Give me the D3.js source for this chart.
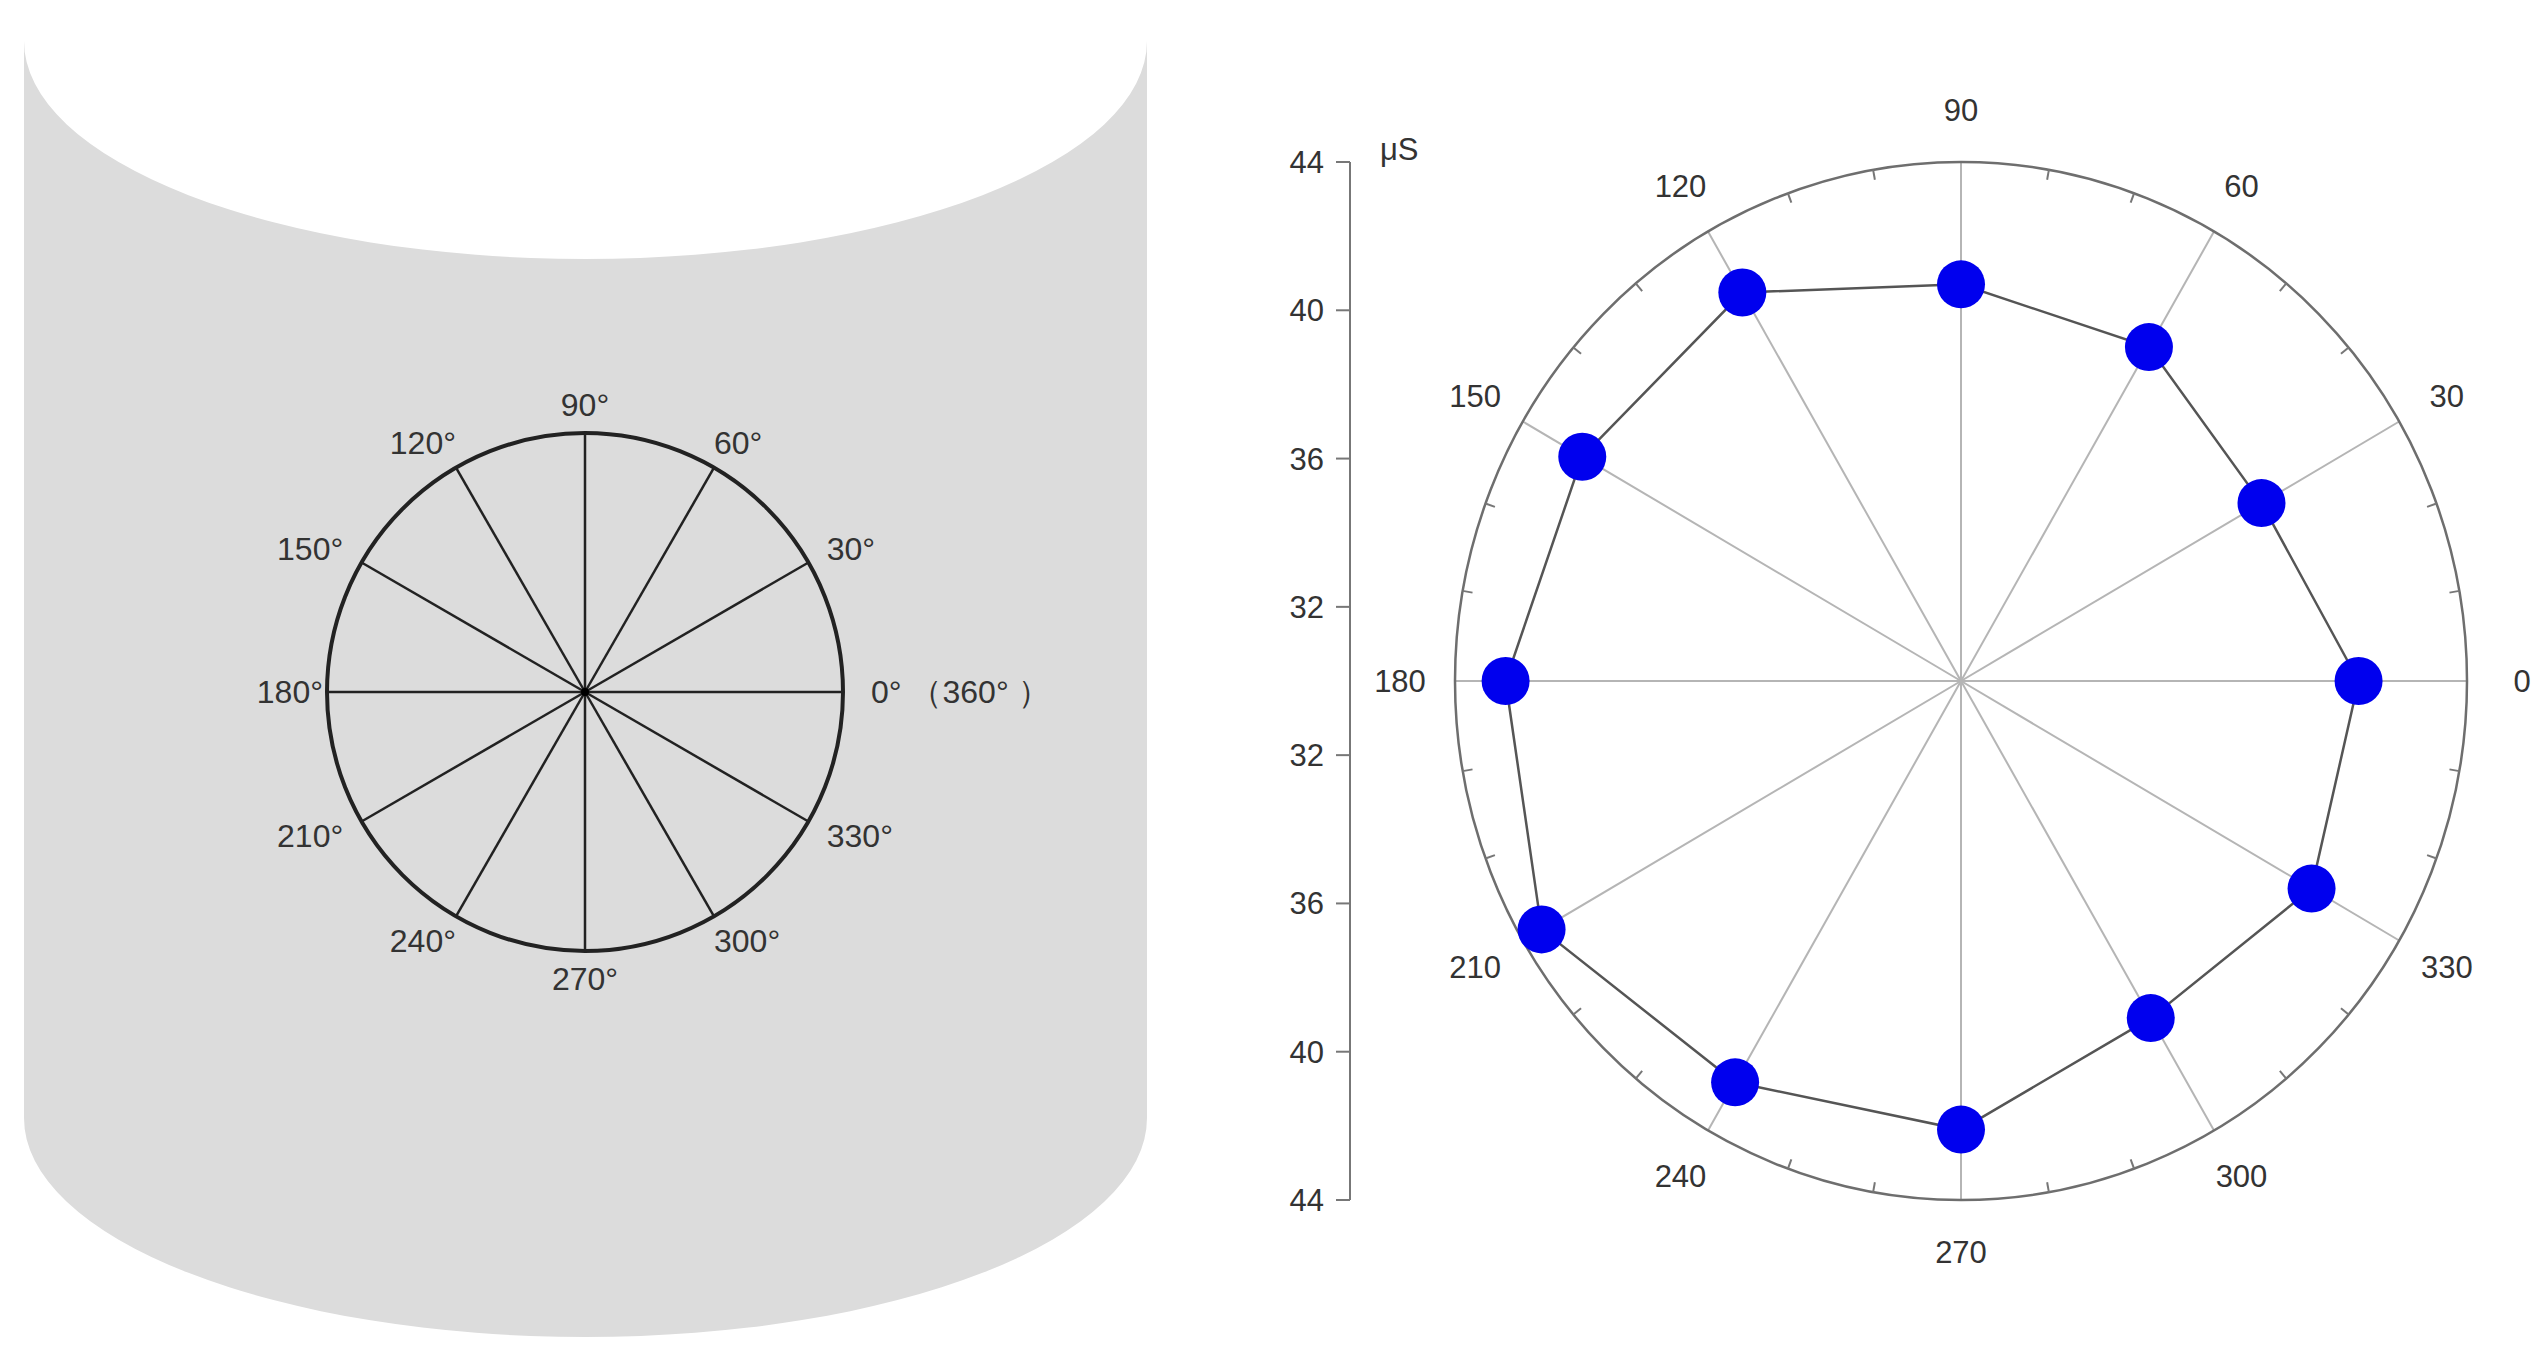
<!DOCTYPE html>
<html><head><meta charset="utf-8">
<script src="https://cdn.jsdelivr.net/npm/d3@7"></script>
<style>body{margin:0;background:#fff}svg{display:block}text{font-family:Arial,"Liberation Sans",sans-serif}</style>
</head><body><svg id="c" width="2541" height="1367"></svg>
<script>
const angles = [0,30,60,90,120,150,180,210,240,270,300,330];
const values = [41.0,39.6,40.4,40.7,42.1,42.1,42.6,43.4,42.5,42.1,40.5,41.2];
const axisTicksTop = [44,40,36,32];
const axisTicksBottom = [32,36,40,44];
const leftLabels = ["0°","30°","60°","90°","120°","150°","180°","210°","240°","270°","300°","330°"];
const rightLabels = ["0","30","60","90","120","150","180","210","240","270","300","330"];

const svg = d3.select("#c");
// ---- left: cylinder ----
const L = {x0:24,x1:1147,top:41,topR:218,bot:1118,botR:219,cx:585,cy:692,rx:258,ry:259};
const hw=(L.x1-L.x0)/2;
svg.append("path").attr("fill","#dcdcdc")
  .attr("d",`M${L.x0},${L.top} A${hw},${L.topR} 0 0 0 ${L.x1},${L.top} L${L.x1},${L.bot} A${hw},${L.botR} 0 0 1 ${L.x0},${L.bot} Z`);
const gl = svg.append("g");
angles.forEach(a=>{
  const t=a*Math.PI/180;
  gl.append("line").attr("x1",L.cx).attr("y1",L.cy)
    .attr("x2",L.cx+L.rx*Math.cos(t)).attr("y2",L.cy-L.ry*Math.sin(t))
    .attr("stroke","#222").attr("stroke-width",2.5);
});
gl.append("ellipse").attr("cx",L.cx).attr("cy",L.cy).attr("rx",L.rx).attr("ry",L.ry)
  .attr("fill","none").attr("stroke","#222").attr("stroke-width",4);
gl.append("circle").attr("cx",L.cx).attr("cy",L.cy).attr("r",4).attr("fill","#000");
angles.forEach((a,i)=>{
  const t=a*Math.PI/180, c=Math.cos(t), s=Math.sin(t);
  let x=L.cx+(L.rx+50)*c, y=L.cy-(L.ry+28)*s+11;
  let anchor = c>0.3?"start":(c<-0.3?"end":"middle");
  if(anchor==="start") x-=25; if(anchor==="end") x+=25;
  if(a===0){x=L.cx+L.rx+28;}
  if(a===180){x=L.cx-L.rx-4;}
  const txt = a===0 ? "0°  （360° ）" : leftLabels[i];
  gl.append("text").attr("x",x).attr("y",y).attr("text-anchor",a===180?"end":anchor)
    .attr("font-size",32).attr("fill","#333").attr("font-family","'DejaVu Serif',serif").text(txt);
});

// ---- right: polar ----
const P = {cx:1961,cy:681,rx:506,ry:519,ax:1350};
const rX = d3.scaleLinear().domain([30,44]).range([0,P.rx]);
const rY = d3.scaleLinear().domain([30,44]).range([0,P.ry]);
const g = svg.append("g");
angles.forEach(a=>{
  const t=a*Math.PI/180;
  g.append("line").attr("x1",P.cx).attr("y1",P.cy)
    .attr("x2",P.cx+P.rx*Math.cos(t)).attr("y2",P.cy-P.ry*Math.sin(t))
    .attr("stroke","#b5b5b5").attr("stroke-width",2);
});
g.append("ellipse").attr("cx",P.cx).attr("cy",P.cy).attr("rx",P.rx).attr("ry",P.ry)
  .attr("fill","none").attr("stroke","#6e6e6e").attr("stroke-width",2.5);
d3.range(0,360,10).forEach(a=>{
  if(a%30===0) return;
  const t=a*Math.PI/180;
  g.append("line").attr("x1",P.cx+P.rx*Math.cos(t)).attr("y1",P.cy-P.ry*Math.sin(t))
    .attr("x2",P.cx+(P.rx-10)*Math.cos(t)).attr("y2",P.cy-(P.ry-10)*Math.sin(t))
    .attr("stroke","#777").attr("stroke-width",2);
});
angles.forEach((a,i)=>{
  const t=a*Math.PI/180, c=Math.cos(t), s=Math.sin(t);
  const x=P.cx+(P.rx+55)*c, y=P.cy-(P.ry+52)*s+11;
  g.append("text").attr("x",x).attr("y",y).attr("text-anchor","middle")
    .attr("font-size",31).attr("fill","#333").text(rightLabels[i]);
});
const pts = angles.map((a,i)=>{const t=a*Math.PI/180;return [P.cx+rX(values[i])*Math.cos(t),P.cy-rY(values[i])*Math.sin(t)];});
g.append("path").attr("d",d3.line().curve(d3.curveLinearClosed)(pts))
  .attr("fill","none").attr("stroke","#555").attr("stroke-width",2.5);
g.selectAll(".pt").data(pts).join("circle").attr("cx",d=>d[0]).attr("cy",d=>d[1]).attr("r",24).attr("fill","#0000ee");
const ga = svg.append("g");
ga.append("line").attr("x1",P.ax).attr("x2",P.ax).attr("y1",P.cy-P.ry).attr("y2",P.cy+P.ry).attr("stroke","#777").attr("stroke-width",2);
const tick=(v,y)=>{
  ga.append("line").attr("x1",P.ax-14).attr("x2",P.ax).attr("y1",y).attr("y2",y).attr("stroke","#777").attr("stroke-width",2);
  ga.append("text").attr("x",P.ax-26).attr("y",y+11).attr("text-anchor","end").attr("font-size",31).attr("fill","#333").text(v);
};
axisTicksTop.forEach(v=>tick(v,P.cy-rY(v)));
axisTicksBottom.forEach(v=>tick(v,P.cy+rY(v)));
ga.append("text").attr("x",P.ax+30).attr("y",P.cy-P.ry-2).attr("font-size",31).attr("fill","#333").text("μS");
</script></body></html>
